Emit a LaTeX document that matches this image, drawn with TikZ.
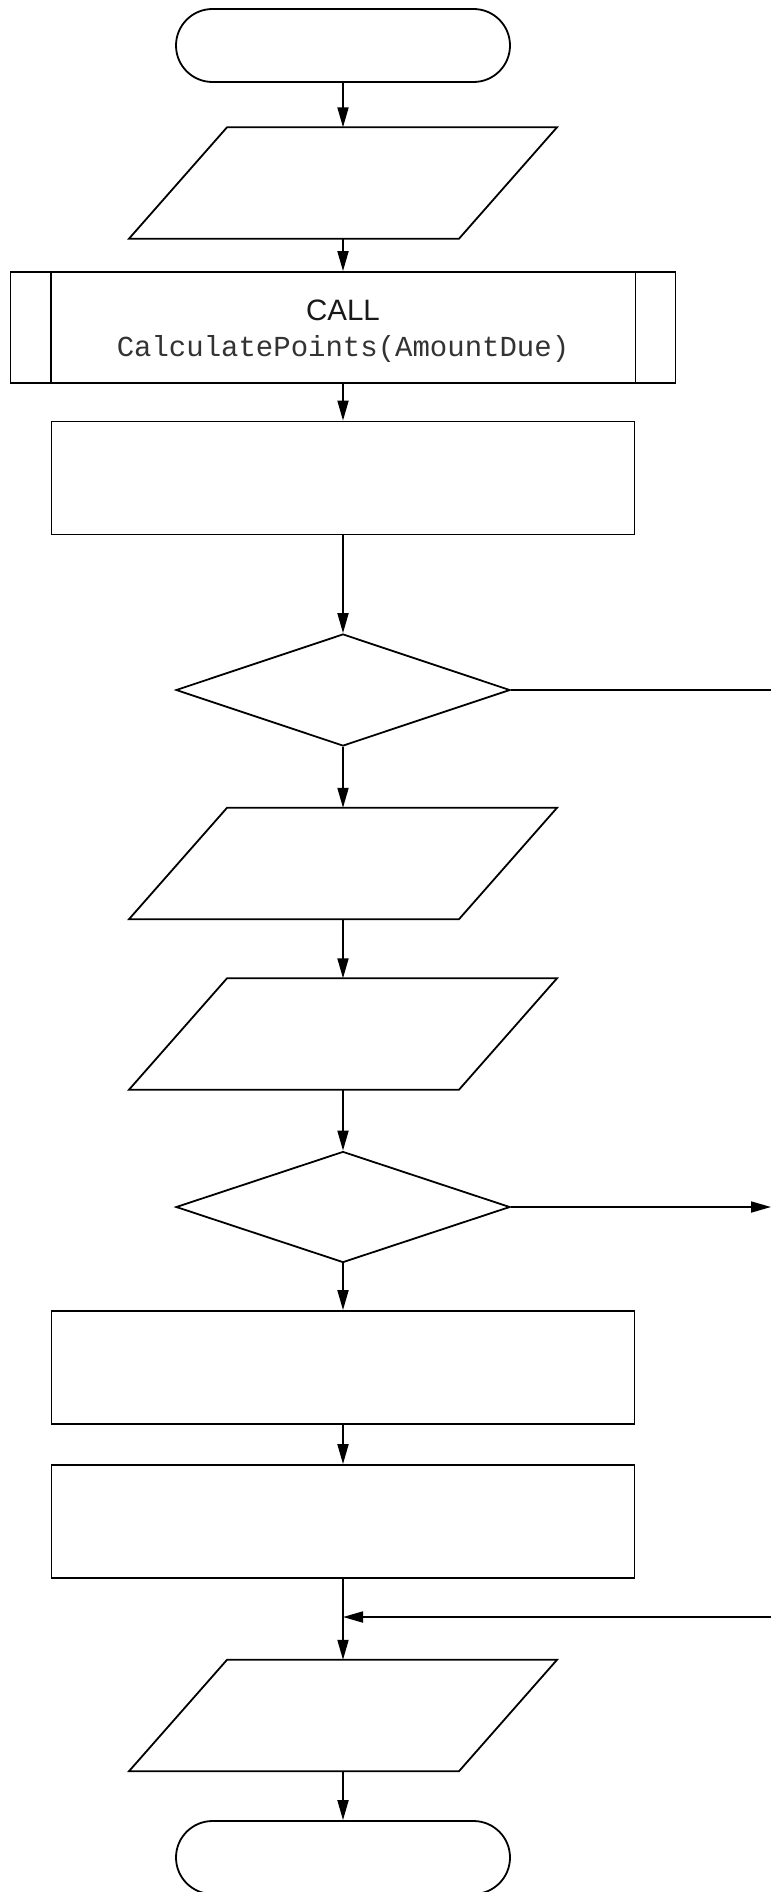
\documentclass[tikz,border=0pt]{standalone}
\usepackage{fontspec}
\setmainfont{Liberation Sans}
\newfontfamily\monof{Liberation Mono}
\usetikzlibrary{shapes.geometric,arrows.meta}
\newcommand{\myparal}[2]{%
  \node[ghost] (#1) at (343,#2) {};
  \draw[shapeline] ([xshift=-116pt]#1.north) -- ([xshift=214pt]#1.north) -- ([xshift=116pt]#1.south) -- ([xshift=-214pt]#1.south) -- cycle;}
\begin{document}
\begin{tikzpicture}[x=1pt,y=-1pt,
  shapeline/.style={draw=black,line width=1.8pt,line join=miter},
  ghost/.style={rectangle,inner sep=0pt,minimum width=330pt,minimum height=111pt},
  term/.style={shapeline,rectangle,rounded corners=36.5pt,minimum width=334pt,minimum height=73pt,inner sep=0pt},
  procbox/.style={shapeline,rectangle,inner sep=0pt,minimum width=583pt,minimum height=113pt},
  subbox/.style={shapeline,rectangle,inner sep=0pt,minimum width=665pt,minimum height=111pt},
  decision/.style={shapeline,diamond,inner sep=0pt,minimum width=334pt,minimum height=112pt},
  flow/.style={draw=black,line width=1.8pt,-{Triangle[length=20pt,width=11pt]}},
  plainline/.style={draw=black,line width=1.8pt},
  calltext/.style={inner sep=0pt,anchor=base,text=black!90,font=\fontsize{29.5}{32}\selectfont},
  codetext/.style={inner sep=0pt,anchor=base,text=black!80,font=\monof\fontsize{29}{32}\selectfont}]
\useasboundingbox (0,0) rectangle (771,1892);
\fill[white] (0,0) rectangle (771,1892);

\node[term] (start) at (343,45.5) {};
\myparal{in1}{183}
\node[subbox] (sub) at (343,327.5) {};
\draw[shapeline] ([xshift=41pt]sub.north west) -- ([xshift=41pt]sub.south west);
\draw[shapeline] ([xshift=-41pt]sub.north east) -- ([xshift=-41pt]sub.south east);
\node[calltext] (calla) at (343,320) {CALL};
\node[codetext] (callb) at (343,356) {CalculatePoints(AmountDue)};
\node[procbox] (r1) at (343,478) {};
\node[decision] (d1) at (343,690) {};
\myparal{io2}{863.5}
\myparal{io3}{1034}
\node[decision, minimum height=111pt] (d2) at (343,1207) {};
\node[procbox] (r2) at (343,1367.5) {};
\node[procbox] (r3) at (343,1521.5) {};
\myparal{out4}{1715.5}
\node[term] (stop) at (343,1857.5) {};

\coordinate (e1) at (771,690);
\coordinate (e2) at (771,1207);
\coordinate (e3) at (771,1617);
\coordinate (j) at (343,1617);

\draw[flow] (start.south) -- (in1.north);
\draw[flow] (in1.south) -- (sub.north);
\draw[flow] (sub.south) -- (r1.north);
\draw[flow] (r1.south) -- (d1.north);
\draw[flow] (d1.south) -- (io2.north);
\draw[flow] (io2.south) -- (io3.north);
\draw[flow] (io3.south) -- (d2.north);
\draw[flow] (d2.south) -- (r2.north);
\draw[flow] (r2.south) -- (r3.north);
\draw[flow] (r3.south) -- (out4.north);
\draw[flow] (out4.south) -- (stop.north);
\draw[plainline] (d1.east) -- (e1);
\draw[flow] (d2.east) -- (e2);
\draw[flow] (e3) -- (j);
\end{tikzpicture}
\end{document}
